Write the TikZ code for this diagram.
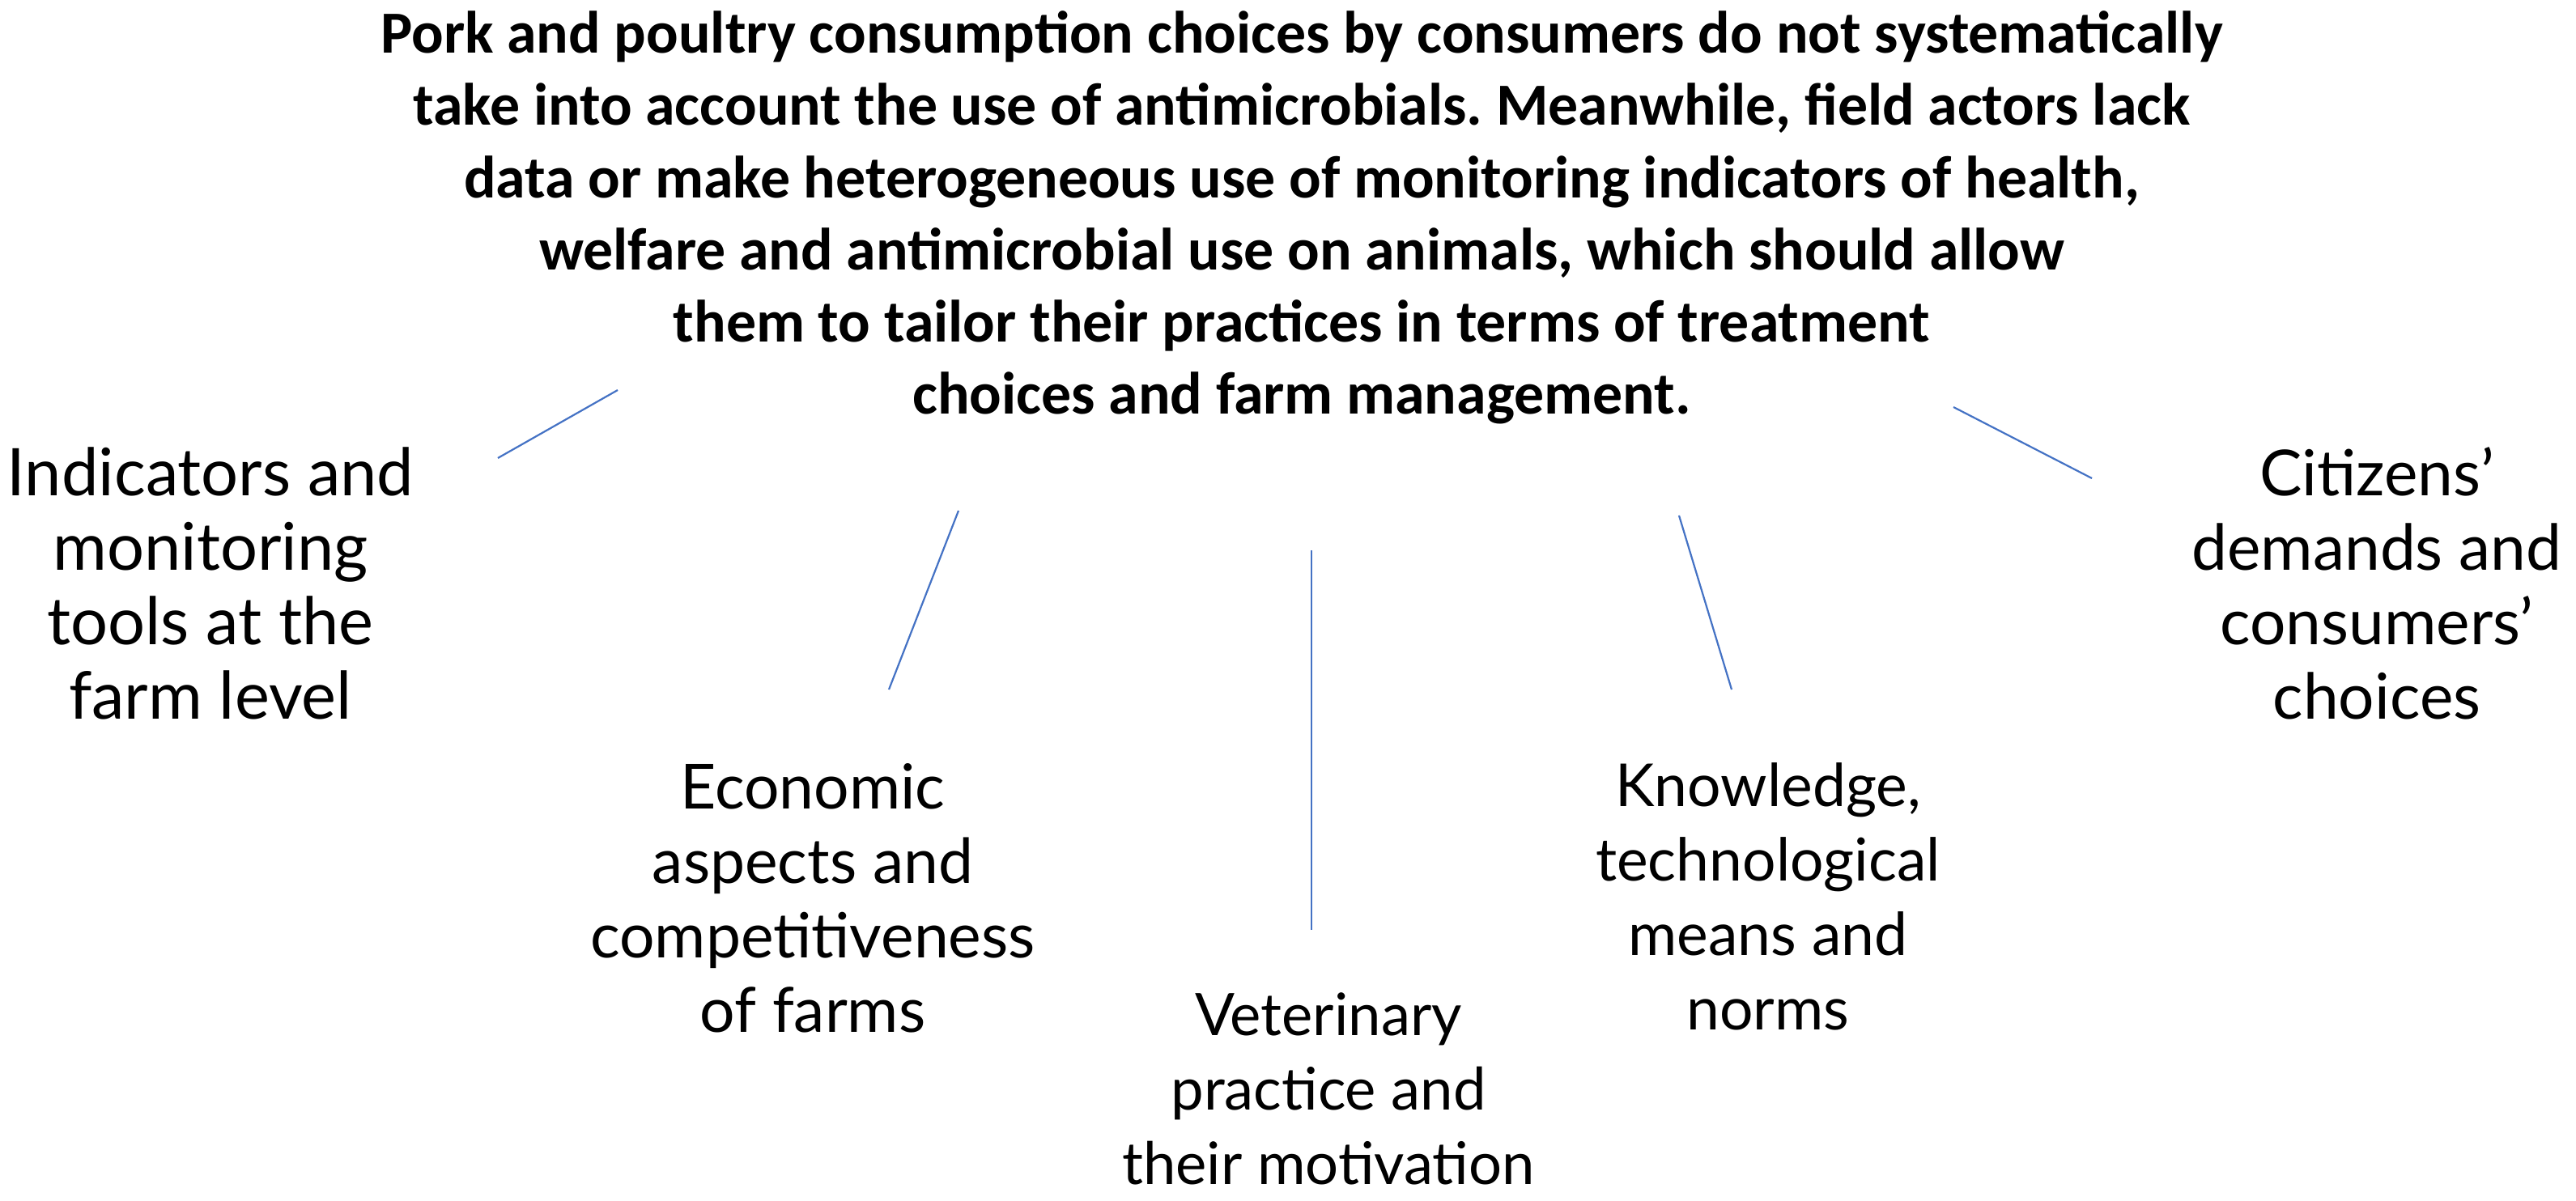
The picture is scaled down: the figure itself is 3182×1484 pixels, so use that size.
\documentclass[tikz,border=0pt]{standalone}
\usepackage{fontspec}
\setmainfont{Carlito}
\newfontfamily\geofont{Lato}
\definecolor{linkblue}{RGB}{68,114,196}
\frenchspacing
\begin{document}
\begin{tikzpicture}[x=0.25pt,y=-0.25pt,
  toptext/.style={align=center,inner sep=0pt,font=\fontsize{18.45}{22.3}\selectfont\bfseries},
  label/.style={align=center,inner sep=0pt,font=\geofont\fontsize{#1}{23}\selectfont},
  link/.style={draw=linkblue,line width=0.55pt}]
\useasboundingbox (0,0) rectangle (3182,1484);
\node[toptext] (top) at (1608,269) {Pork and poultry consumption choices by consumers do not systematically\\
take into account the use of antimicrobials. Meanwhile, field actors lack\\
data or make heterogeneous use of monitoring indicators of health,\\
welfare and antimicrobial use on animals, which should allow\\
them to tailor their practices in terms of treatment\\
choices and farm management.};
\node[label=20.3] (ind) at (260,721) {Indicators and\\monitoring\\tools at the\\farm level};
\node[label=19.2] (eco) at (1004,1110) {Economic\\aspects and\\competitiveness\\of farms};
\node[label=18.1] (vet) at (1641,1345) {Veterinary\\practice and\\their motivation};
\node[label=18.3] (kno) at (2184,1108) {Knowledge,\\technological\\means and\\norms};
\node[label=19.6] (cit) at (2936,721) {Citizens’\\demands and\\consumers’\\choices};
\coordinate (a1) at (763,482); \coordinate (a2) at (615,566);
\coordinate (b1) at (1184,631); \coordinate (b2) at (1098,852);
\coordinate (c1) at (1620,680); \coordinate (c2) at (1620,1149);
\coordinate (d1) at (2074,637); \coordinate (d2) at (2139,852);
\coordinate (e1) at (2413,503); \coordinate (e2) at (2584,591);
\draw[link] (a1) -- (a2);
\draw[link] (b1) -- (b2);
\draw[link] (c1) -- (c2);
\draw[link] (d1) -- (d2);
\draw[link] (e1) -- (e2);
\end{tikzpicture}
\end{document}
